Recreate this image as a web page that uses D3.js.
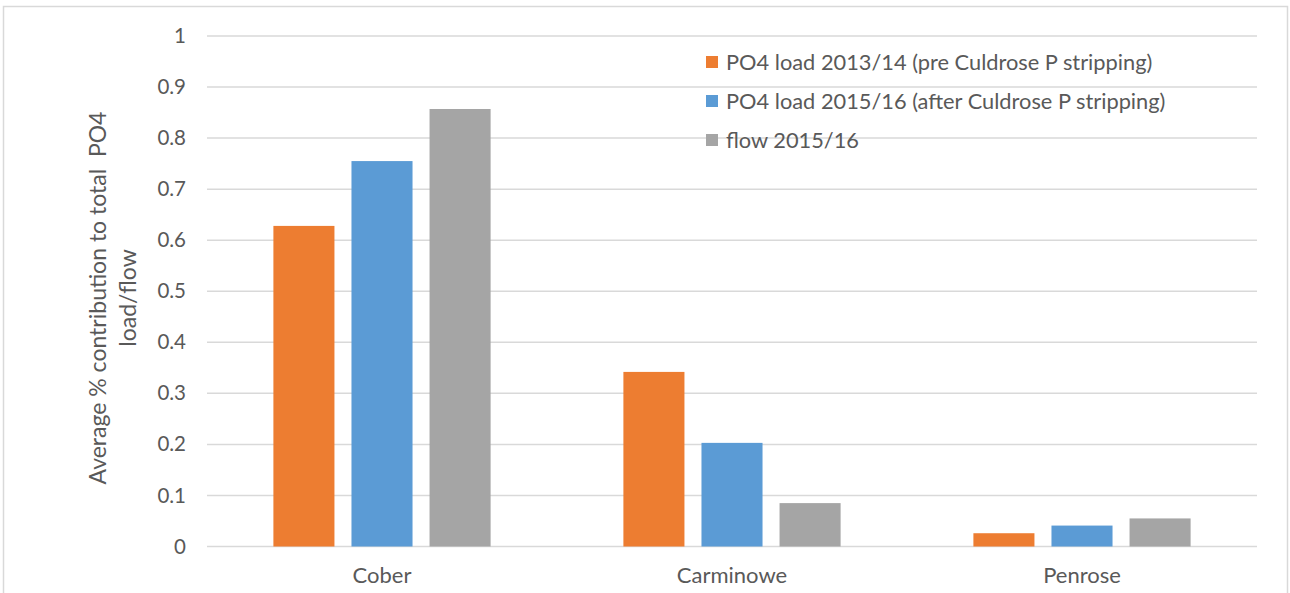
<!DOCTYPE html>
<html>
<head>
<meta charset="utf-8">
<script src="https://cdn.jsdelivr.net/npm/d3@7"></script>
<style>
  html, body { margin: 0; padding: 0; background: #fff; }
  svg { display: block; font-family: Lato, "Open Sans", sans-serif; }
</style>
</head>
<body>
<svg id="chart" width="1290" height="593"></svg>
<script>
// Sites along the x axis
const categories = ["Cober", "Carminowe", "Penrose"];

// Series names, shown in the legend
const seriesNames = [
  "PO4 load 2013/14 (pre Culdrose P stripping)",
  "PO4 load 2015/16 (after Culdrose P stripping)",
  "flow 2015/16"
];

// Average fractional contribution per site, one array per series
const load2013 = [0.628, 0.342, 0.026];
const load2015 = [0.755, 0.203, 0.041];
const flow2015 = [0.857, 0.085, 0.055];

const yTicks = [0, 0.1, 0.2, 0.3, 0.4, 0.5, 0.6, 0.7, 0.8, 0.9, 1];
const yTitleLines = ["Average % contribution to total  PO4", "load/flow"];

const colors = ["#ED7D31", "#5B9BD5", "#A5A5A5"];
const seriesValues = [load2013, load2015, flow2015];

const rows = categories.map((c, i) => ({
  category: c,
  values: seriesNames.map((s, j) => ({ series: s, value: seriesValues[j][i] }))
}));

const svg = d3.select("#chart");
const textColor = "#595959";
const gridColor = "#D9D9D9";

// outer chart frame
svg.append("rect")
  .attr("x", 3.5).attr("y", 6.5)
  .attr("width", 1284).attr("height", 620)
  .attr("fill", "none").attr("stroke", gridColor).attr("stroke-width", 1.5);

const plot = { left: 207, right: 1257, top: 36, bottom: 546.5 };

const x0 = d3.scaleBand().domain(categories).range([plot.left, plot.right]).padding(0);
const groupWidth = x0.bandwidth() * 0.6206;
const x1 = d3.scaleBand().domain(seriesNames)
  .range([(x0.bandwidth() - groupWidth) / 2, (x0.bandwidth() + groupWidth) / 2])
  .paddingInner(0.218).paddingOuter(0);
const y = d3.scaleLinear().domain([0, 1]).range([plot.bottom, plot.top]);

// horizontal gridlines
svg.append("g").selectAll("line").data(yTicks).join("line")
  .attr("x1", plot.left).attr("x2", plot.right)
  .attr("y1", d => y(d)).attr("y2", d => y(d))
  .attr("stroke", gridColor).attr("stroke-width", 1.5);

// y axis labels
const yAxis = d3.axisLeft(y).tickValues(yTicks).tickFormat(d3.format("~g")).tickSize(0).tickPadding(0);
const yg = svg.append("g").attr("transform", `translate(${plot.left - 21},0)`).call(yAxis);
yg.select(".domain").remove();
yg.selectAll("text").attr("fill", textColor).style("font-size", "20.5px")
  .style("font-family", "Lato, 'Open Sans', sans-serif");

// bars
svg.append("g").selectAll("g").data(rows).join("g")
  .attr("transform", d => `translate(${x0(d.category)},0)`)
  .selectAll("rect").data(d => d.values).join("rect")
  .attr("x", d => x1(d.series))
  .attr("width", x1.bandwidth())
  .attr("y", d => y(d.value))
  .attr("height", d => y(0) - y(d.value))
  .attr("fill", (d, i) => colors[i]);

// category labels
const xAxis = d3.axisBottom(x0).tickSize(0).tickPadding(0);
const xg = svg.append("g").attr("transform", `translate(0,${plot.bottom + 21})`).call(xAxis);
xg.select(".domain").remove();
xg.selectAll("text").attr("fill", textColor).style("font-size", "22px")
  .style("font-family", "Lato, 'Open Sans', sans-serif");

// y axis title (two lines, rotated)
const yTitle = svg.append("text")
  .attr("transform", `translate(106,298) rotate(-90)`)
  .attr("text-anchor", "middle").attr("fill", textColor).style("font-size", "23px");
yTitle.selectAll("tspan").data(yTitleLines).join("tspan")
  .attr("x", 0).attr("dy", (d, i) => i === 0 ? 0 : 30)
  .attr("xml:space", "preserve")
  .style("white-space", "pre")
  .text(d => d);

// legend
const legend = svg.append("g").attr("transform", "translate(706,0)");
const legendY = [62, 101, 140];
const items = legend.selectAll("g").data(seriesNames).join("g")
  .attr("transform", (d, i) => `translate(0,${legendY[i]})`);
items.append("rect").attr("x", 0).attr("y", -6).attr("width", 12).attr("height", 12)
  .attr("fill", (d, i) => colors[i]);
items.append("text").attr("x", 20).attr("dy", "0.35em")
  .attr("fill", textColor).style("font-size", "21.8px").text(d => d);
</script>
</body>
</html>
